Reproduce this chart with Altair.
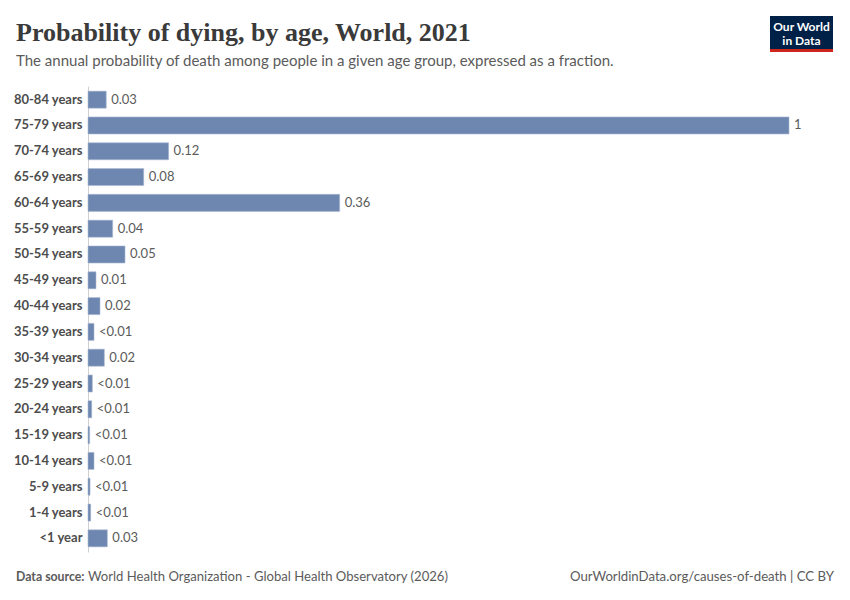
import altair as alt
import pandas as pd

ages = ["80-84 years", "75-79 years", "70-74 years", "65-69 years", "60-64 years",
        "55-59 years", "50-54 years", "45-49 years", "40-44 years", "35-39 years",
        "30-34 years", "25-29 years", "20-24 years", "15-19 years", "10-14 years",
        "5-9 years", "1-4 years", "<1 year"]
probs = [0.026, 1.0, 0.115, 0.0795, 0.359, 0.0352, 0.0528, 0.0114, 0.0171, 0.0086,
         0.0233, 0.0062, 0.0053, 0.0024, 0.0086, 0.0029, 0.0038, 0.0276]

def fmt(v):
    if v < 0.01:
        return "<0.01"
    s = f"{v:.2f}".rstrip("0").rstrip(".")
    return s

df = pd.DataFrame({"age": ages, "p": probs, "label": [fmt(v) for v in probs]})

W, H = 701, 466
GRAY = "#5b5b5b"

base = alt.Chart(df).encode(
    y=alt.Y("age:N", sort=ages, title=None,
            scale=alt.Scale(paddingInner=0.34, paddingOuter=0.2),
            axis=alt.Axis(labelFont="Lato", labelFontSize=13, labelFontWeight="bold",
                          labelColor="#4d4d4d", ticks=False, labelPadding=6,
                          domainColor="#d0d0d0", domainWidth=1, grid=False)),
)

bars = base.mark_bar(color="#6e87b1", stroke="#a9b8d2", strokeWidth=0.6).encode(
    x=alt.X("p:Q", scale=alt.Scale(domain=[0, 1]), axis=None),
)
labels = base.mark_text(align="left", baseline="middle", dx=5, font="Lato",
                        fontSize=13, color=GRAY).encode(
    x=alt.X("p:Q"), text="label:N")

one = pd.DataFrame({"k": [0]})
def txt(text, x, y, **kw):
    return alt.Chart(one).mark_text(text=text, **kw).encode(x=alt.value(x), y=alt.value(y))

title = txt("Probability of dying, by age, World, 2021", -72, -45, align="left",
            baseline="alphabetic", font="Liberation Serif", fontSize=26, fontWeight="bold",
            color="#3a3a3a")
subtitle = txt("The annual probability of death among people in a given age group, expressed as a fraction.",
               -72, -20, align="left", baseline="alphabetic", font="Lato", fontSize=15, color=GRAY)
src_b = txt("Data source:", -72, 495, align="left", baseline="alphabetic", font="Lato",
            fontSize=12.3, fontWeight="bold", color=GRAY)
src = txt("World Health Organization - Global Health Observatory (2026)", 0, 495, align="left",
          baseline="alphabetic", font="Lato", fontSize=13.1, color=GRAY)
right = txt("OurWorldinData.org/causes-of-death | CC BY", 746, 495, align="right",
            baseline="alphabetic", font="Lato", fontSize=13.2, color=GRAY)

logo_bg = alt.Chart(one).mark_rect(color="#002147").encode(
    x=alt.value(682), x2=alt.value(745), y=alt.value(-70), y2=alt.value(-37))
logo_red = alt.Chart(one).mark_rect(color="#ce261e").encode(
    x=alt.value(682), x2=alt.value(745), y=alt.value(-37), y2=alt.value(-34))
logo1 = txt("Our World", 713.5, -55, align="center", baseline="alphabetic", font="Lato",
            fontSize=12, fontWeight="bold", color="white")
logo2 = txt("in Data", 713.5, -41, align="center", baseline="alphabetic", font="Lato",
            fontSize=12, fontWeight="bold", color="white")

chart = alt.layer(bars, labels, title, subtitle, src_b, src, right,
                  logo_bg, logo_red, logo1, logo2).properties(
    width=W, height=H,
    autosize=alt.AutoSizeParams(type="none"),
    padding={"left": 88, "top": 86, "right": 61, "bottom": 48},
).configure(background="white").configure_view(stroke=None)

chart.save("out.html", embed_options={"renderer": "svg", "actions": False})
